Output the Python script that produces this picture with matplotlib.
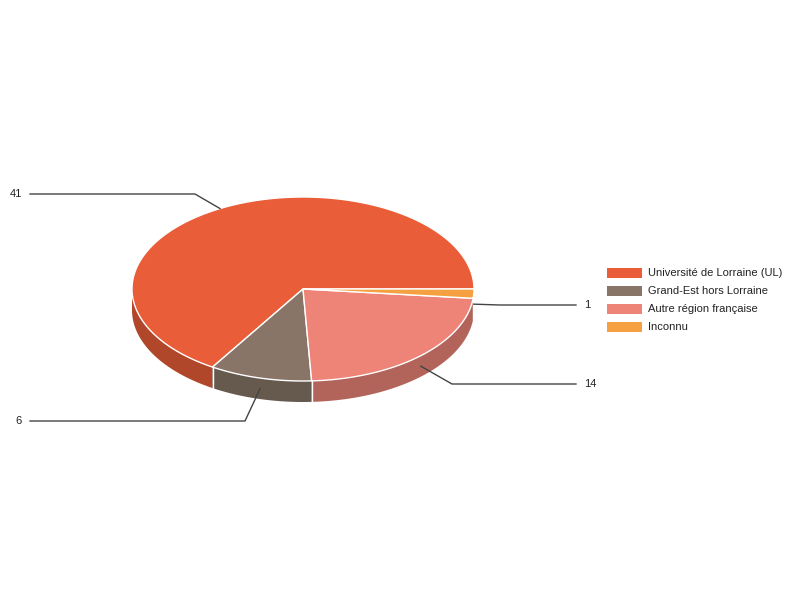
import numpy as np
import matplotlib.pyplot as plt
from matplotlib.patches import Polygon, Rectangle

categories = ['Université de Lorraine (UL)', 'Grand-Est hors Lorraine',
              'Autre région française', 'Inconnu']
values = [41, 6, 14, 1]
top_colors = ['#e95d38', '#887567', '#ee8377', '#f5a142']
side_colors = ['#b0472b', '#665a4f', '#b3645a', '#b87731']

# pie geometry (pixels)
cx, cy = 303, 289
rx, ry = 171, 92
depth = 21

# label positions and elbow x for the leader lines
label_pos = [(22, 194), (22, 421), (584, 384), (584, 305)]
label_ha = ['right', 'right', 'left', 'left']
elbow_x = [195, 245, 452, 500]

fig = plt.figure(figsize=(8, 6), dpi=100)
ax = fig.add_axes([0, 0, 1, 1])
ax.set_xlim(0, 800)
ax.set_ylim(600, 0)
ax.axis('off')


def pt(theta, dy=0):
    t = np.radians(theta)
    return cx + rx * np.cos(t), cy - ry * np.sin(t) + dy


total = float(sum(values))
bounds = np.concatenate([[0], np.cumsum(values) / total * 360])

# side walls (front half only: 180..360 deg)
for i in range(len(values)):
    a = max(bounds[i], 180)
    b = min(bounds[i + 1], 360)
    if b <= a:
        continue
    th = np.linspace(a, b, 80)
    upper = [pt(t) for t in th]
    lower = [pt(t, depth) for t in th[::-1]]
    ax.add_patch(Polygon(upper + lower, closed=True, facecolor=side_colors[i],
                         edgecolor='none', zorder=1))

# white lines on the side at slice boundaries
for b in bounds[1:-1]:
    if 180 < b < 360:
        x0, y0 = pt(b)
        ax.plot([x0, x0], [y0, y0 + depth], color='white', lw=1, zorder=2)

# top faces
for i in range(len(values)):
    th = np.linspace(bounds[i], bounds[i + 1], 200)
    pts = [(cx, cy)] + [pt(t) for t in th]
    ax.add_patch(Polygon(pts, closed=True, facecolor=top_colors[i],
                         edgecolor='white', lw=1, zorder=3))

# leader lines and value labels
for i, v in enumerate(values):
    mid = (bounds[i] + bounds[i + 1]) / 2
    if 180 < mid < 360:
        ax_, ay_ = pt(mid, depth / 2)
    else:
        ax_, ay_ = pt(mid)
    lx, ly = label_pos[i]
    end_x = lx + 8 if label_ha[i] == 'right' else lx - 8
    ax.plot([ax_, elbow_x[i], end_x], [ay_, ly, ly], color='#444444',
            lw=1, zorder=4)
    ax.text(lx, ly, str(v), ha=label_ha[i], va='center', fontsize=8,
            family='Liberation Sans', color='#222222')

# legend
leg_y = [273, 291, 309, 327]
for i, name in enumerate(categories):
    ax.add_patch(Rectangle((607, leg_y[i] - 5), 35, 10,
                           facecolor=top_colors[i], edgecolor='none'))
    ax.text(648, leg_y[i], name, ha='left', va='center', fontsize=8,
            family='Liberation Sans', color='#222222')

fig.savefig('out.png', dpi=100)
